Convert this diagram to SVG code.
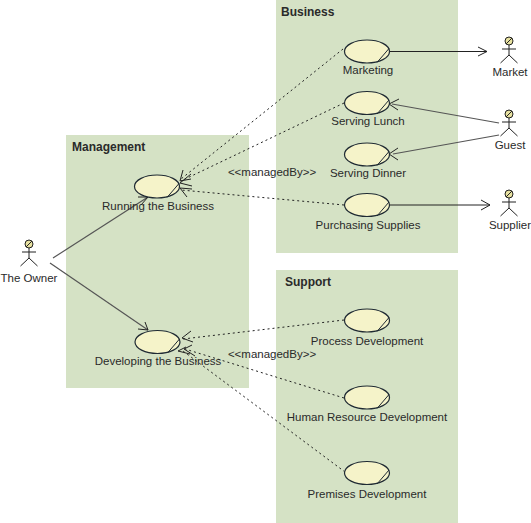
<svg xmlns="http://www.w3.org/2000/svg" width="531" height="523" viewBox="0 0 531 523">
<style>
text{font-family:"Liberation Sans",Arial,sans-serif;font-size:11.500px;fill:#2a2a2a;text-anchor:middle}
.t{font-weight:bold;font-size:12px;text-anchor:start}
.p{fill:#d5e2c5}
.e{fill:#f5f3c9;stroke:#1f2a33;stroke-width:1.2}
.h{stroke:#1f2a33;stroke-width:1;fill:none}
.a{fill:#e8e2a0;stroke:#222;stroke-width:1}
.s{stroke:#222;stroke-width:1;fill:none}
.c{fill:none;stroke:#222;stroke-width:1}
.g{fill:none;stroke:#555;stroke-width:1.2}
.d{fill:none;stroke:#222;stroke-width:1;stroke-dasharray:2 3}
.o{fill:none;stroke:#222;stroke-width:1}
</style>
<defs>
<g id="uc"><ellipse class="e" cx="0" cy="0" rx="22.5" ry="11.5"/><path class="h" d="M22,-3L10,11"/></g>
<g id="ac"><circle class="a" cx="0" cy="-11" r="4"/><path class="s" d="M3,-14L-3,-8M0,-7V3M-7,-3H7M0,3L-8.500,11M0,3L8.500,11"/></g>
</defs>
<g id="panels">
<rect class="p" x="66" y="135" width="183" height="253"/>
<rect class="p" x="276" y="0" width="182" height="253"/>
<rect class="p" x="276" y="270" width="182" height="253"/>
</g>
<g id="connectors">
<path class="g" d="M53,258L148,197"/><path class="o" d="M138,197H148L141,205"/>
<path class="g" d="M50,263L148,330"/><path class="o" d="M138,329L148,330L145,322"/>
<path class="d" d="M343,49L181,179"/><path class="d" d="M344,103L181,181"/><path class="d" d="M344,205L181,190"/>
<path class="o" d="M183,170L180,181L191,179M191,174L180,183L192,186M192,189L180,188L187,197"/>
<path class="d" d="M344,320L183,339"/><path class="d" d="M344,398L185,349"/><path class="d" d="M345,472L183,351"/>
<path class="o" d="M191,331L182,338L193,342M192,345L184,349L195,356M186,347L178,351L190,354"/>
<path class="c" d="M390,51.500H487"/><path class="o" d="M478,47L487,51.500L478,56"/>
<path class="c" d="M390,205H490"/><path class="o" d="M481,200L490,205L481,210"/>
<path class="g" d="M499,123L392,104"/><path class="o" d="M399,99L389,104L398,110"/>
<path class="g" d="M499,135L393,154"/><path class="o" d="M398,148L389,154L398,160"/>
</g>
<g id="management"><text class="t" x="72" y="151">Management</text></g>
<g id="business"><text class="t" x="281" y="16">Business</text></g>
<g id="support"><text class="t" x="285" y="286">Support</text></g>
<g id="running"><use href="#uc" x="157" y="186.500"/><text x="158" y="210">Running the Business</text></g>
<g id="developing"><use href="#uc" x="157.500" y="342"/><text x="158" y="365">Developing the Business</text></g>
<g id="marketing"><use href="#uc" x="367" y="51.500"/><text x="368" y="74">Marketing</text></g>
<g id="lunch"><use href="#uc" x="367" y="103"/><text x="368" y="125">Serving Lunch</text></g>
<g id="dinner"><use href="#uc" x="367" y="154.500"/><text x="368" y="177">Serving Dinner</text></g>
<g id="purchasing"><use href="#uc" x="367" y="205"/><text x="368" y="229">Purchasing Supplies</text></g>
<g id="process"><use href="#uc" x="367" y="320.500"/><text x="367" y="345">Process Development</text></g>
<g id="hr"><use href="#uc" x="367" y="397.500"/><text x="367" y="421">Human Resource Development</text></g>
<g id="premises"><use href="#uc" x="367" y="473"/><text x="367" y="498">Premises Development</text></g>
<g id="owner"><use href="#ac" x="29" y="255"/><text x="29" y="282">The Owner</text></g>
<g id="market"><use href="#ac" x="509" y="52"/><text x="510" y="76">Market</text></g>
<g id="guest"><use href="#ac" x="509" y="125"/><text x="510" y="149">Guest</text></g>
<g id="supplier"><use href="#ac" x="509" y="205"/><text x="510" y="229">Supplier</text></g>
<g id="labels"><text x="272" y="176">&lt;&lt;managedBy&gt;&gt;</text><text x="272" y="358">&lt;&lt;managedBy&gt;&gt;</text></g>
</svg>
